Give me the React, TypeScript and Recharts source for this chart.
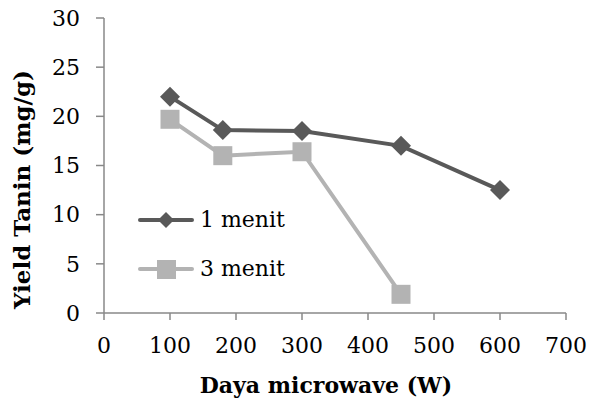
import { LineChart, Line, XAxis, YAxis } from 'recharts';

const powers = [100, 180, 300, 450, 600];
const yield1 = [22.0, 18.6, 18.5, 17.0, 12.5];
const yield3 = [19.7, 16.0, 16.4, 1.9, null];
const xTicks = [0, 100, 200, 300, 400, 500, 600, 700];
const yTicks = [0, 5, 10, 15, 20, 25, 30];

const data = powers.map((p, i) => ({ p, m1: yield1[i], m3: yield3[i] }));

const DARK = '#595959';
const LIGHT = '#b3b3b3';
const AXIS = '#888888';
const FONT = '"DejaVu Serif", serif';

function Diamond(props: any) {
  const { cx, cy, fill } = props;
  if (cx == null || cy == null) return null;
  const r = 10;
  return (
    <polygon
      points={`${cx},${cy - r} ${cx + r},${cy} ${cx},${cy + r} ${cx - r},${cy}`}
      fill={fill}
    />
  );
}

function Square(props: any) {
  const { cx, cy, fill } = props;
  if (cx == null || cy == null) return null;
  const s = 9.5;
  return <rect x={cx - s} y={cy - s} width={s * 2} height={s * 2} fill={fill} />;
}

// legend drawn as an overlay so it doesn't shrink the plot area
function LegendBox() {
  const items = [
    { name: '1 menit', color: DARK, shape: 'diamond' },
    { name: '3 menit', color: LIGHT, shape: 'square' },
  ];
  return (
    <div style={{ position: 'absolute', left: 136, top: 195, fontFamily: FONT, fontSize: 22 }}>
      {items.map((it) => (
        <div key={it.name} style={{ display: 'flex', alignItems: 'center', height: 49 }}>
          <svg width={58} height={24}>
            <line x1={4} y1={12} x2={56} y2={12} stroke={it.color} strokeWidth={4} strokeLinecap="round" />
            {it.shape === 'diamond' ? (
              <polygon points="30,4 38,12 30,20 22,12" fill={it.color} />
            ) : (
              <rect x={21} y={3} width={19} height={19} fill={it.color} />
            )}
          </svg>
          <span style={{ color: '#000', marginLeft: 6 }}>{it.name}</span>
        </div>
      ))}
    </div>
  );
}

export default function App() {
  return (
    <div style={{ position: 'absolute', left: 0, top: 0, width: 590, height: 398, background: '#fff' }}>
      <LineChart
        width={590}
        height={398}
        data={data}
        margin={{ top: 18, right: 24, bottom: 0, left: 0 }}
      >
        <XAxis
          type="number"
          dataKey="p"
          domain={[0, 700]}
          ticks={xTicks}
          interval={0}
          height={85}
          tickSize={7}
          tickMargin={17}
          stroke={AXIS}
          strokeWidth={1.5}
          tick={{ fill: '#000', fontSize: 22, fontFamily: FONT }}
          label={{
            value: 'Daya microwave (W)',
            position: 'insideBottom',
            offset: 5,
            dx: -9,
            style: { fill: '#000', fontSize: 22, fontWeight: 'bold', fontFamily: FONT },
          }}
        />
        <YAxis
          type="number"
          domain={[0, 30]}
          ticks={yTicks}
          interval={0}
          width={104}
          tickSize={8}
          tickMargin={16}
          stroke={AXIS}
          strokeWidth={1.5}
          tick={{ fill: '#000', fontSize: 22, fontFamily: FONT }}
          label={{
            value: 'Yield Tanin (mg/g)',
            angle: -90,
            position: 'center',
            dx: -30,
            dy: 24,
            style: { fill: '#000', fontSize: 23, fontWeight: 'bold', fontFamily: FONT, textAnchor: 'middle' },
          }}
        />
        <Line
          dataKey="m1"
          name="1 menit"
          stroke={DARK}
          strokeWidth={4}
          fill={DARK}
          dot={<Diamond fill={DARK} />}
          activeDot={false}
          isAnimationActive={false}
        />
        <Line
          dataKey="m3"
          name="3 menit"
          stroke={LIGHT}
          strokeWidth={4}
          fill={LIGHT}
          dot={<Square fill={LIGHT} />}
          activeDot={false}
          isAnimationActive={false}
        />
      </LineChart>
      <LegendBox />
    </div>
  );
}
